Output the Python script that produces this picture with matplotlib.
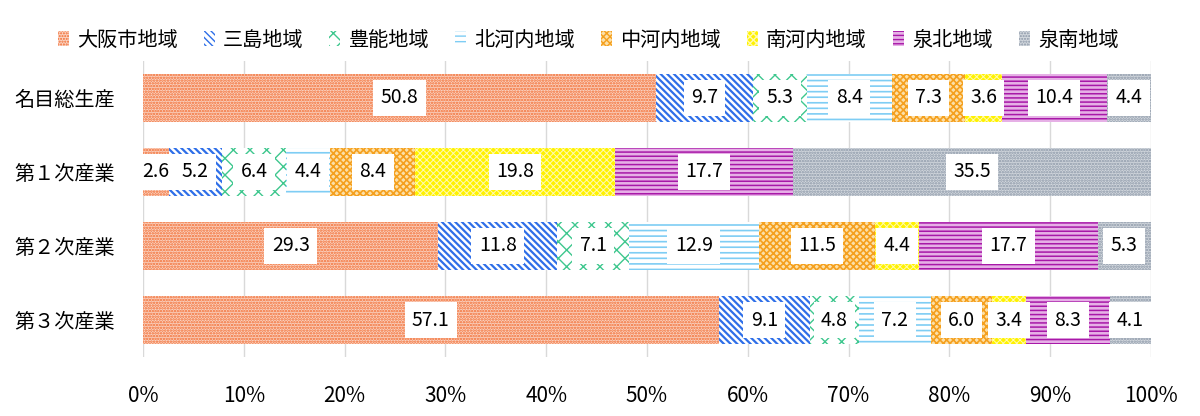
import matplotlib
matplotlib.use("Agg")
import matplotlib.pyplot as plt
import numpy as np
from matplotlib.patches import Patch

plt.rcParams['font.family'] = ['Noto Sans CJK JP', 'DejaVu Sans']

categories = ["名目総生産", "第１次産業", "第２次産業", "第３次産業"]
regions = ["大阪市地域", "三島地域", "豊能地域", "北河内地域", "中河内地域", "南河内地域", "泉北地域", "泉南地域"]
osaka = [50.8, 2.6, 29.3, 57.1]
mishima = [9.7, 5.2, 11.8, 9.1]
toyono = [5.3, 6.4, 7.1, 4.8]
kitakawachi = [8.4, 4.4, 12.9, 7.2]
nakakawachi = [7.3, 8.4, 11.5, 6.0]
minamikawachi = [3.6, 19.8, 4.4, 3.4]
senboku = [10.4, 17.7, 17.7, 8.3]
sennan = [4.4, 35.5, 5.3, 4.1]
series = [osaka, mishima, toyono, kitakawachi, nakakawachi, minamikawachi, senboku, sennan]
xticks = ["0%", "10%", "20%", "30%", "40%", "50%", "60%", "70%", "80%", "90%", "100%"]

BS = chr(92)
styles = [
    dict(facecolor="#FAD3C2", edgecolor="#F26A2E", hatch="......"),
    dict(facecolor="#FFFFFF", edgecolor="#2F6FE8", hatch=BS * 5),
    dict(facecolor="#FFFFFF", edgecolor="#3EC78E", hatch="xx"),
    dict(facecolor="#FFFFFF", edgecolor="#7ECDF4", hatch="---"),
    dict(facecolor="#FCE0A8", edgecolor="#F5A01E", hatch="xxxxx"),
    dict(facecolor="#FFF200", edgecolor="#FFFAB0", hatch="xxxxx"),
    dict(facecolor="#E6B0E6", edgecolor="#A818A8", hatch="----"),
    dict(facecolor="#D3D8DE", edgecolor="#8A96A6", hatch="......"),
]
hatch_lw = [1.2, 1.6, 1.0, 1.2, 1.2, 0.7, 1.1, 1.2]

fig = plt.figure(figsize=(12, 4.16), dpi=100)
ax = fig.add_axes([143/1200, 1-357/416, (1151-143)/1200, (357-61)/416])

y = np.arange(len(categories))
left = np.zeros(len(categories))
total = np.array([sum(s[i] for s in series) for i in range(len(categories))])
handles = []
for vals, st, hlw in zip(series, styles, hatch_lw):
    vals = np.array(vals)
    w = vals / total * 100
    with plt.rc_context({'hatch.linewidth': hlw}):
        ax.barh(y, w, left=left, height=0.66, linewidth=0, zorder=2, **st)
        handles.append(Patch(linewidth=0, **st))
    for i in range(len(categories)):
        ax.text(left[i] + w[i] / 2, y[i], f"{vals[i]:.1f}", ha="center", va="center",
                fontsize=14, color="#000000", zorder=3,
                bbox=dict(boxstyle="square,pad=0.38", facecolor="white", edgecolor="none"))
    left = left + w

ax.set_xlim(0, 100)
ax.set_ylim(3.5, -0.5)
ax.set_xticks(np.arange(0, 101, 10))
ax.set_xticklabels(xticks, fontsize=15)
ax.set_yticks(y)
ax.set_yticklabels(categories, fontsize=14.5)
ax.tick_params(axis="both", length=0)
ax.tick_params(axis="x", pad=20)
ax.tick_params(axis="y", pad=20)
ax.xaxis.grid(True, color="#D9D9D9", linewidth=1, zorder=0)
ax.set_axisbelow(True)
for sp in ax.spines.values():
    sp.set_visible(False)

fig.legend(handles, regions, loc="center", bbox_to_anchor=(0.49, 1-40/416), ncol=8,
           frameon=False, fontsize=14.5, handlelength=0.55, handleheight=0.8,
           handletextpad=0.4, columnspacing=1.3)

fig.savefig("out.png", dpi=100)
